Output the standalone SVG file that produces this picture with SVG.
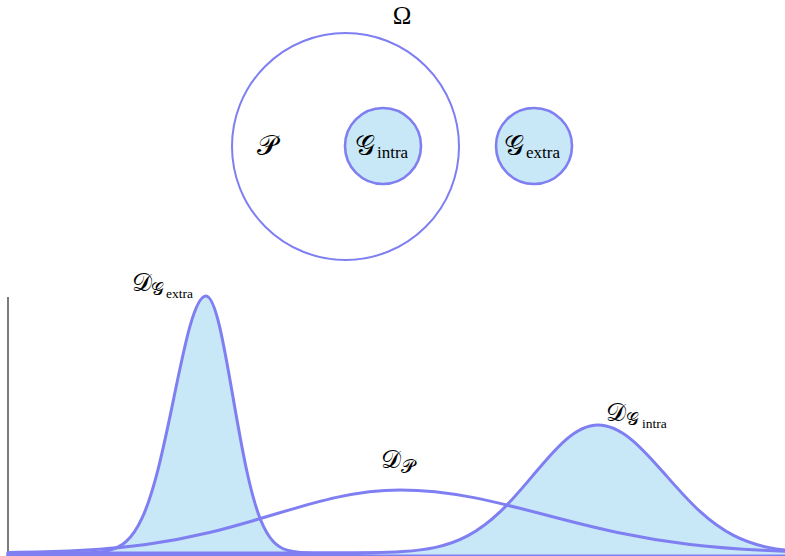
<svg xmlns="http://www.w3.org/2000/svg" width="785" height="556" viewBox="0 0 785 556">
<style>
.ring{fill:none;stroke:#7f7ff2;stroke-width:2}
.set{fill:#c8e8f8;stroke:#7f7ff2;stroke-width:2.6}
.curve{stroke:#7f7ff2;stroke-width:3;stroke-linejoin:round}
.fill{fill:#c8e8f8}
.axis{stroke:#333;stroke-width:1.3;fill:none}
.m{font-family:"DejaVu Serif","DejaVu Sans",serif;fill:#000}
.t{font-family:"Liberation Serif","Times New Roman","DejaVu Serif",serif;fill:#000}
</style>
<rect width="785" height="556" fill="#fff"/>
<g id="omega">
<circle class="ring" cx="345.5" cy="146.5" r="113.5"/>
<text class="t" x="402" y="24" font-size="25" text-anchor="middle">Ω</text>
<text class="m" x="257" y="155" font-size="28">𝒫</text>
</g>
<g id="g-intra">
<circle class="set" cx="383" cy="146" r="38"/>
<text class="m" x="355" y="155" font-size="28">𝒢</text>
<text class="t" x="377" y="158" font-size="17">intra</text>
</g>
<g id="g-extra">
<circle class="set" cx="534" cy="146" r="38"/>
<text class="m" x="504" y="155" font-size="28">𝒢</text>
<text class="t" x="526" y="158" font-size="17">extra</text>
</g>
<g id="axes">
<line class="axis" x1="8" y1="297" x2="8" y2="554"/>
<line class="axis" x1="8" y1="553.5" x2="785" y2="553.5"/>
</g>
<g id="connectors">
<path id="d-extra" class="curve fill" d="M 8 553 L 78 552.9 C 83.33 552.86 88.67 552.77 94 552.44 C 99.33 552.11 104.67 551.58 110 550.15 C 115.33 548.72 120.67 546.42 126 541.72 C 131.33 537.02 136.67 529.82 142 518.23 C 147.33 506.64 152.67 490.41 158 469.55 C 163.33 448.69 168.67 423.11 174 397.13 C 179.33 371.15 184.67 345.1 190 326.2 C 195.33 307.3 200.67 296 206 296 C 210.5 296 215 307.3 219.5 326.2 C 224 345.1 228.5 371.15 233 397.13 C 237.5 423.11 242 448.69 246.5 469.55 C 251 490.41 255.5 506.64 260 518.23 C 264.5 529.82 269 537.02 273.5 541.72 C 278 546.42 282.5 548.72 287 550.15 C 291.5 551.58 296 552.11 300.5 552.44 C 305 552.77 309.5 552.86 314 552.9 L 790 553 L 790 556 L 8 556 Z"/>
<path id="d-intra" class="curve fill" d="M 8 553 L 338 552.96 C 348.83 552.93 359.67 552.88 370.5 552.72 C 381.33 552.56 392.17 552.29 403 551.58 C 413.83 550.87 424.67 549.72 435.5 547.38 C 446.33 545.04 457.17 541.46 468 535.68 C 478.83 529.91 489.67 521.83 500.5 511.44 C 511.33 501.05 522.17 488.31 533 475.37 C 543.83 462.43 554.67 449.45 565.5 440.04 C 576.33 430.63 587.17 425 598 425 C 609.33 425 620.67 430.63 632 440.04 C 643.33 449.45 654.67 462.43 666 475.37 C 677.33 488.31 688.67 501.05 700 511.44 C 711.33 521.83 722.67 529.91 734 535.68 C 745.33 541.46 756.67 545.04 768 547.38 C 779.33 549.72 790.67 550.87 802 551.58 L 802 556 L 8 556 Z"/>
<path id="d-p" class="curve" fill="none" d="M 8 552.5 L 19 552.3 C 40.17 551.95 61.33 551.38 82.5 550.23 C 103.67 549.08 124.83 547.32 146 544.48 C 167.17 541.64 188.33 537.65 209.5 532.54 C 230.67 527.43 251.83 521.16 273 514.79 C 294.17 508.42 315.33 502.03 336.5 497.4 C 357.67 492.77 378.83 490 400 490 C 424.17 490 448.33 492.77 472.5 497.4 C 496.67 502.03 520.83 508.42 545 514.79 C 569.17 521.16 593.33 527.43 617.5 532.54 C 641.67 537.65 665.83 541.64 690 544.48 C 714.17 547.32 738.33 549.08 762.5 550.23 C 786.67 551.38 810.83 551.95 835 552.3"/>
</g>
<g id="labels">
<text class="m" x="132" y="291" font-size="25">𝒟</text>
<text class="m" x="151" y="295" font-size="18">𝒢</text>
<text class="t" x="166" y="298" font-size="13.5">extra</text>
<text class="m" x="381" y="468" font-size="25">𝒟</text>
<text class="m" x="401" y="473" font-size="19">𝒫</text>
<text class="m" x="606" y="421" font-size="25">𝒟</text>
<text class="m" x="626" y="425" font-size="18">𝒢</text>
<text class="t" x="642" y="428" font-size="13.5">intra</text>
</g>
</svg>
